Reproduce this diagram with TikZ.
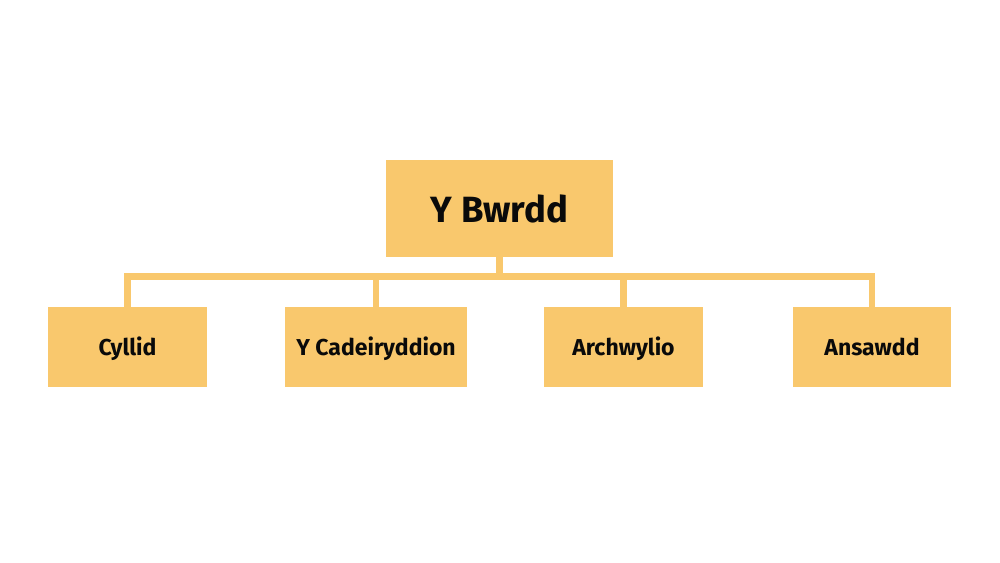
\documentclass[tikz,border=0pt]{standalone}
\usepackage{fontspec}
\setmainfont{Fira Sans}
\definecolor{boxfill}{HTML}{F9C86D}
\definecolor{txt}{HTML}{0A0A0A}
\begin{document}
\begin{tikzpicture}[x=1pt,y=-1pt,
  unit/.style={fill=boxfill, draw=none, inner sep=0pt, text=txt, text height=16pt, text depth=0pt, font=\bfseries\fontsize{23}{26}\selectfont},
  link/.style={draw=boxfill, line width=6.5pt}]
\useasboundingbox[fill=white] (0,0) rectangle (1000,562);
\node[unit, minimum width=227pt, minimum height=97pt, text height=27pt, font=\bfseries\fontsize{36.5}{42}\selectfont] (board) at (499.5,208.5) {Y Bwrdd};
\node[unit, minimum width=159pt, minimum height=80pt] (c1) at (127.5,347) {Cyllid};
\node[unit, minimum width=182pt, minimum height=80pt] (c2) at (376,347) {Y Cadeiryddion};
\node[unit, minimum width=159pt, minimum height=80pt] (c3) at (623.5,347) {Archwylio};
\node[unit, minimum width=158pt, minimum height=80pt] (c4) at (872,347) {Ansawdd};
\coordinate (bar) at (499.5,276.5);
\draw[link] (board.south) -- (bar);
\draw[link, line cap=rect] (c1.north) |- (bar) -| (c4.north);
\draw[link] (c2.north) -- (c2.north |- bar);
\draw[link] (c3.north) -- (c3.north |- bar);
\end{tikzpicture}
\end{document}
